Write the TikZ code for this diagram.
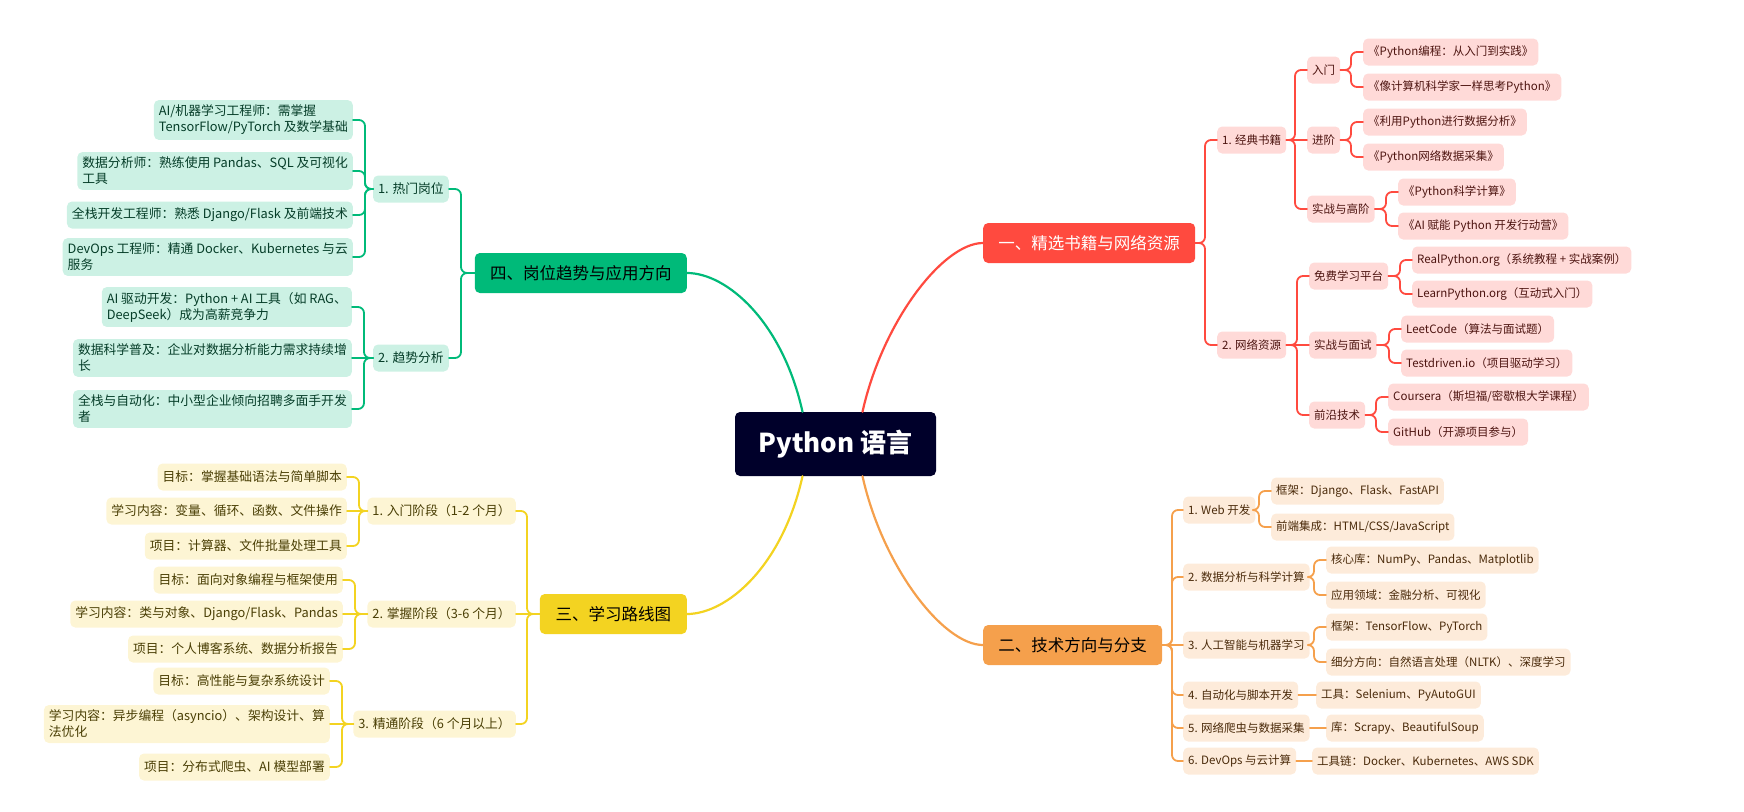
\documentclass[tikz,border=0pt]{standalone}
\usepackage{fontspec}
\setmainfont{Noto Sans CJK SC}
\definecolor{navy}{HTML}{00002A}
\definecolor{rmain}{HTML}{FF4A3F}
\definecolor{rfill}{HTML}{FFDAD8}
\definecolor{rtext}{HTML}{4D1410}
\definecolor{omain}{HTML}{F5A04C}
\definecolor{ofill}{HTML}{FDEBDA}
\definecolor{otext}{HTML}{4A2A0A}
\definecolor{ymain}{HTML}{F3D321}
\definecolor{yfill}{HTML}{FDF5D4}
\definecolor{ytext}{HTML}{4A3F05}
\definecolor{gmain}{HTML}{00BA79}
\definecolor{gfill}{HTML}{CCF1E4}
\definecolor{gtext}{HTML}{053D28}

\begin{document}
\begin{tikzpicture}[x=1pt,y=-1pt,line cap=round,line join=round,
	root/.style={fill=navy,text=white,rounded corners=5pt,minimum width=201pt,minimum height=64pt,font=\fontsize{26}{30}\selectfont\bfseries},
	mainbox/.style={rounded corners=5pt,minimum height=40pt,inner xsep=12pt,font=\fontsize{16.5}{20}\selectfont},
	leaf/.style={rounded corners=5pt,minimum height=27pt,inner xsep=5pt,inner ysep=5pt,align=left,font=\fontsize{12.8}{16}\selectfont},
	rbox/.style={leaf,fill=rfill,text=rtext,anchor=west,font=\fontsize{11.5}{15}\selectfont},
	obox/.style={leaf,fill=ofill,text=otext,anchor=west,font=\fontsize{11.5}{15}\selectfont},
	ybox/.style={leaf,fill=yfill,text=ytext,anchor=east},
	gbox/.style={leaf,fill=gfill,text=gtext,anchor=east},
	curve/.style={line width=2.2pt},
	rcon/.style={draw=rmain,line width=1.8pt,rounded corners=6pt},
	ocon/.style={draw=omain,line width=1.8pt,rounded corners=6pt},
	ycon/.style={draw=ymain,line width=1.8pt,rounded corners=6pt},
	gcon/.style={draw=gmain,line width=1.8pt,rounded corners=6pt}]
	\useasboundingbox (0,0) rectangle (1744,811);

	\node[root] (root) at (835.5,444) {Python 语言};

	% main branches
	\node[mainbox,fill=rmain,text=white,minimum width=212pt,anchor=west] (m1) at (983,243) {一、精选书籍与网络资源};
	\node[mainbox,fill=omain,text=black,minimum width=179pt,anchor=west] (m2) at (983,645) {二、技术方向与分支};
	\node[mainbox,fill=ymain,text=black,minimum width=147pt,anchor=east] (m3) at (687,614) {三、学习路线图};
	\node[mainbox,fill=gmain,text=black,minimum width=212pt,anchor=east] (m4) at (687,273) {四、岗位趋势与应用方向};

	\draw[curve,rmain] ([xshift=27pt]root.north) .. controls +(20,-90) and +(-40,0) .. (m1.west);
	\draw[curve,omain] ([xshift=27pt]root.south) .. controls +(20,90) and +(-40,0) .. (m2.west);
	\draw[curve,ymain] ([xshift=-33pt]root.south) .. controls +(-20,90) and +(40,0) .. (m3.east);
	\draw[curve,gmain] ([xshift=-33pt]root.north) .. controls +(-20,-90) and +(40,0) .. (m4.east);

	% 一
	\node[rbox] (r1) at (1217,140) {1. 经典书籍};
	\node[rbox] (r2) at (1217,345) {2. 网络资源};
	\node[rbox] (r11) at (1307,70) {入门};
	\node[rbox] (r12) at (1307,140) {进阶};
	\node[rbox] (r13) at (1307,209) {实战与高阶};
	\node[rbox] (r111) at (1363,52) {《Python编程：从入门到实践》};
	\node[rbox] (r112) at (1363,87) {《像计算机科学家一样思考Python》};
	\node[rbox] (r121) at (1363,122) {《利用Python进行数据分析》};
	\node[rbox] (r122) at (1363,157) {《Python网络数据采集》};
	\node[rbox] (r131) at (1398,192) {《Python科学计算》};
	\node[rbox] (r132) at (1398,226) {《AI 赋能 Python 开发行动营》};
	\node[rbox] (r21) at (1309,276) {免费学习平台};
	\node[rbox] (r22) at (1309,345) {实战与面试};
	\node[rbox] (r23) at (1309,415) {前沿技术};
	\node[rbox] (r211) at (1412,260) {RealPython.org（系统教程 + 实战案例）};
	\node[rbox] (r212) at (1412,294) {LearnPython.org（互动式入门）};
	\node[rbox] (r221) at (1401,329) {LeetCode（算法与面试题）};
	\node[rbox] (r222) at (1401,363) {Testdriven.io（项目驱动学习）};
	\node[rbox] (r231) at (1388,397) {Coursera（斯坦福/密歇根大学课程）};
	\node[rbox] (r232) at (1388,432) {GitHub（开源项目参与）};

	\draw[rcon] (m1.east) -| ([xshift=-12pt]r1.west) -- (r1.west);
	\draw[rcon] (m1.east) -| ([xshift=-12pt]r2.west) -- (r2.west);
	\draw[rcon] (r1.east) -| ([xshift=-12pt]r11.west) -- (r11.west);
	\draw[rcon] (r1.east) -- (r12.west);
	\draw[rcon] (r1.east) -| ([xshift=-12pt]r13.west) -- (r13.west);
	\draw[rcon] (r11.east) -| ([xshift=-12pt]r111.west) -- (r111.west);
	\draw[rcon] (r11.east) -| ([xshift=-12pt]r112.west) -- (r112.west);
	\draw[rcon] (r12.east) -| ([xshift=-12pt]r121.west) -- (r121.west);
	\draw[rcon] (r12.east) -| ([xshift=-12pt]r122.west) -- (r122.west);
	\draw[rcon] (r13.east) -| ([xshift=-12pt]r131.west) -- (r131.west);
	\draw[rcon] (r13.east) -| ([xshift=-12pt]r132.west) -- (r132.west);
	\draw[rcon] (r2.east) -| ([xshift=-12pt]r21.west) -- (r21.west);
	\draw[rcon] (r2.east) -- (r22.west);
	\draw[rcon] (r2.east) -| ([xshift=-12pt]r23.west) -- (r23.west);
	\draw[rcon] (r21.east) -| ([xshift=-12pt]r211.west) -- (r211.west);
	\draw[rcon] (r21.east) -| ([xshift=-12pt]r212.west) -- (r212.west);
	\draw[rcon] (r22.east) -| ([xshift=-12pt]r221.west) -- (r221.west);
	\draw[rcon] (r22.east) -| ([xshift=-12pt]r222.west) -- (r222.west);
	\draw[rcon] (r23.east) -| ([xshift=-12pt]r231.west) -- (r231.west);
	\draw[rcon] (r23.east) -| ([xshift=-12pt]r232.west) -- (r232.west);

	% 二
	\node[obox] (o1) at (1183,510) {1. Web 开发};
	\node[obox] (o2) at (1183,577) {2. 数据分析与科学计算};
	\node[obox] (o3) at (1183,645) {3. 人工智能与机器学习};
	\node[obox] (o4) at (1183,695) {4. 自动化与脚本开发};
	\node[obox] (o5) at (1183,728) {5. 网络爬虫与数据采集};
	\node[obox] (o6) at (1183,761) {6. DevOps 与云计算};
	\node[obox] (o11) at (1271,491) {框架：Django、Flask、FastAPI};
	\node[obox] (o12) at (1271,527) {前端集成：HTML/CSS/JavaScript};
	\node[obox] (o21) at (1326,560) {核心库：NumPy、Pandas、Matplotlib};
	\node[obox] (o22) at (1326,595) {应用领域：金融分析、可视化};
	\node[obox] (o31) at (1326,627) {框架：TensorFlow、PyTorch};
	\node[obox] (o32) at (1326,662) {细分方向：自然语言处理（NLTK）、深度学习};
	\node[obox] (o41) at (1316,695) {工具：Selenium、PyAutoGUI};
	\node[obox] (o51) at (1326,728) {库：Scrapy、BeautifulSoup};
	\node[obox] (o61) at (1312,761) {工具链：Docker、Kubernetes、AWS SDK};

	\draw[ocon] (m2.east) -| ([xshift=-11pt]o1.west) -- (o1.west);
	\draw[ocon] (m2.east) -| ([xshift=-11pt]o2.west) -- (o2.west);
	\draw[ocon] (m2.east) -- (o3.west);
	\draw[ocon] (m2.east) -| ([xshift=-11pt]o4.west) -- (o4.west);
	\draw[ocon] (m2.east) -| ([xshift=-11pt]o5.west) -- (o5.west);
	\draw[ocon] (m2.east) -| ([xshift=-11pt]o6.west) -- (o6.west);
	\draw[ocon] (o1.east) -| ([xshift=-12pt]o11.west) -- (o11.west);
	\draw[ocon] (o1.east) -| ([xshift=-12pt]o12.west) -- (o12.west);
	\draw[ocon] (o2.east) -| ([xshift=-12pt]o21.west) -- (o21.west);
	\draw[ocon] (o2.east) -| ([xshift=-12pt]o22.west) -- (o22.west);
	\draw[ocon] (o3.east) -| ([xshift=-12pt]o31.west) -- (o31.west);
	\draw[ocon] (o3.east) -| ([xshift=-12pt]o32.west) -- (o32.west);
	\draw[ocon] (o4.east) -- (o41.west);
	\draw[ocon] (o5.east) -- (o51.west);
	\draw[ocon] (o6.east) -- (o61.west);

	% 三
	\node[ybox] (y1) at (516,511) {1. 入门阶段（1-2 个月）};
	\node[ybox] (y2) at (516,614) {2. 掌握阶段（3-6 个月）};
	\node[ybox] (y3) at (516,724) {3. 精通阶段（6 个月以上）};
	\node[ybox] (y11) at (347,477) {目标：掌握基础语法与简单脚本};
	\node[ybox] (y12) at (347,511) {学习内容：变量、循环、函数、文件操作};
	\node[ybox] (y13) at (347,546) {项目：计算器、文件批量处理工具};
	\node[ybox] (y21) at (343,580) {目标：面向对象编程与框架使用};
	\node[ybox] (y22) at (343,614) {学习内容：类与对象、Django/Flask、Pandas};
	\node[ybox] (y23) at (343,649) {项目：个人博客系统、数据分析报告};
	\node[ybox] (y31) at (330,681) {目标：高性能与复杂系统设计};
	\node[ybox] (y32) at (330,724) {学习内容：异步编程（asyncio）、架构设计、算\\法优化};
	\node[ybox] (y33) at (330,767) {项目：分布式爬虫、AI 模型部署};

	\draw[ycon] (m3.west) -| ([xshift=11pt]y1.east) -- (y1.east);
	\draw[ycon] (m3.west) -- (y2.east);
	\draw[ycon] (m3.west) -| ([xshift=11pt]y3.east) -- (y3.east);
	\draw[ycon] (y1.west) -| ([xshift=12pt]y11.east) -- (y11.east);
	\draw[ycon] (y1.west) -- (y12.east);
	\draw[ycon] (y1.west) -| ([xshift=12pt]y13.east) -- (y13.east);
	\draw[ycon] (y2.west) -| ([xshift=12pt]y21.east) -- (y21.east);
	\draw[ycon] (y2.west) -- (y22.east);
	\draw[ycon] (y2.west) -| ([xshift=12pt]y23.east) -- (y23.east);
	\draw[ycon] (y3.west) -| ([xshift=12pt]y31.east) -- (y31.east);
	\draw[ycon] (y3.west) -- (y32.east);
	\draw[ycon] (y3.west) -| ([xshift=12pt]y33.east) -- (y33.east);

	% 四
	\node[gbox] (g1) at (449,189) {1. 热门岗位};
	\node[gbox] (g2) at (449,358) {2. 趋势分析};
	\node[gbox] (g11) at (353,120) {AI/机器学习工程师：需掌握\\TensorFlow/PyTorch 及数学基础};
	\node[gbox] (g12) at (353,171) {数据分析师：熟练使用 Pandas、SQL 及可视化\\工具};
	\node[gbox] (g13) at (353,215) {全栈开发工程师：熟悉 Django/Flask 及前端技术};
	\node[gbox] (g14) at (353,257) {DevOps 工程师：精通 Docker、Kubernetes 与云\\服务};
	\node[gbox] (g21) at (352,307) {AI 驱动开发：Python + AI 工具（如 RAG、\\DeepSeek）成为高薪竞争力};
	\node[gbox] (g22) at (352,358) {数据科学普及：企业对数据分析能力需求持续增\\长};
	\node[gbox] (g23) at (352,409) {全栈与自动化：中小型企业倾向招聘多面手开发\\者};

	\draw[gcon] (m4.west) -| ([xshift=12pt]g1.east) -- (g1.east);
	\draw[gcon] (m4.west) -| ([xshift=12pt]g2.east) -- (g2.east);
	\draw[gcon] (g1.west) -| ([xshift=12pt]g11.east) -- (g11.east);
	\draw[gcon] (g1.west) -| ([xshift=12pt]g12.east) -- (g12.east);
	\draw[gcon] (g1.west) -| ([xshift=12pt]g13.east) -- (g13.east);
	\draw[gcon] (g1.west) -| ([xshift=12pt]g14.east) -- (g14.east);
	\draw[gcon] (g2.west) -| ([xshift=12pt]g21.east) -- (g21.east);
	\draw[gcon] (g2.west) -- (g22.east);
	\draw[gcon] (g2.west) -| ([xshift=12pt]g23.east) -- (g23.east);
\end{tikzpicture}
\end{document}
